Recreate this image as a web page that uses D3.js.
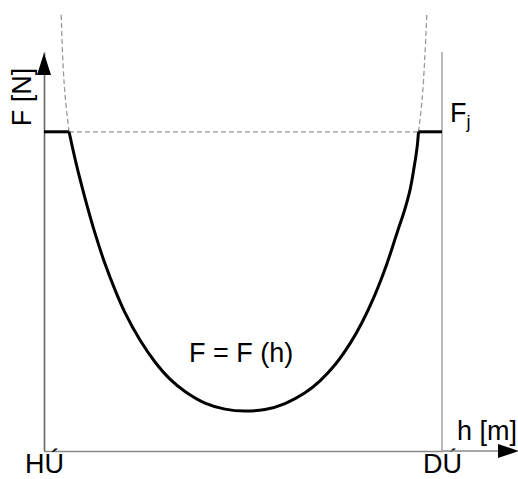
<!DOCTYPE html>
<html><head><meta charset="utf-8">
<script src="https://cdn.jsdelivr.net/npm/d3@7"></script>
<style>body{margin:0;background:#fff;overflow:hidden} text{font-family:"Liberation Sans",Arial,sans-serif;fill:#000}</style>
</head><body><svg id="c" width="518" height="479"></svg>
<script>
// data (h in % of HÚ..DÚ, F in % of axis height)
const hTicks = [0, 100];
const hTickLabels = ["HÚ", "DÚ"];
const Fj = 80;
const curveH = [6.3, 8.04, 10.3, 12.81, 15.33, 17.84, 20.35, 24.12, 27.89, 31.66, 35.43, 40.45, 45.48, 50.5,
  55.53, 60.55, 65.58, 69.35, 73.12, 76.88, 79.9, 83.17, 86.18, 88.94, 90.45, 91.96, 92.96, 93.72, 94.1];
const curveF = [80, 72.2, 63.4, 54.6, 46.9, 40.4, 34.7, 27.8, 22.3, 18.0, 14.9, 12.0, 10.5, 10.0,
  10.4, 11.9, 14.6, 17.6, 21.6, 26.9, 32.2, 39.2, 47.0, 55.4, 59.9, 65.4, 70.9, 75.9, 80];
const leftDashH = [6.3, 5.4, 4.8, 4.3];
const leftDashF = [80, 88, 96.5, 110];
const rightDashH = [94.1, 95.0, 95.7, 96.2];
const rightDashF = [80, 88, 99, 110];

const svg = d3.select("#c");
const x = d3.scaleLinear().domain([0, 100]).range([44, 442]);
const y = d3.scaleLinear().domain([0, 100]).range([451, 52]);

// axes
const xAxis = svg.append("g").attr("transform", `translate(0,${y(0)})`)
  .call(d3.axisBottom(x).tickValues(hTicks).tickSize(0).tickPadding(3)
    .tickFormat((d, i) => hTickLabels[i]));
xAxis.select(".domain").attr("stroke", "#8a8a8a").attr("stroke-width", 1.6);
xAxis.selectAll("text").attr("font-size", 27).attr("font-family", "Liberation Sans, Arial, sans-serif").attr("fill", "#000");
svg.append("line").attr("x1", x(100)).attr("x2", 500).attr("y1", y(0)).attr("y2", y(0))
  .attr("stroke", "#8a8a8a").attr("stroke-width", 1.6);
svg.append("path").attr("d", `M519,${y(0)} L498,${y(0) - 7} L498,${y(0) + 7} Z`).attr("fill", "#000");

const yAxis = svg.append("g").attr("transform", `translate(${x(0)},0)`)
  .call(d3.axisLeft(y).tickValues([]).tickSizeOuter(0));
yAxis.select(".domain").attr("stroke", "#666").attr("stroke-width", 1.6);
svg.append("path").attr("d", `M${x(0)},53 L${x(0) - 7},75 L${x(0) + 7},75 Z`).attr("fill", "#000");

// right boundary (DÚ)
svg.append("line").attr("x1", x(100)).attr("x2", x(100)).attr("y1", y(0)).attr("y2", y(100))
  .attr("stroke", "#aaa").attr("stroke-width", 1.6);

// dashed Fj line
svg.append("line").attr("x1", x(curveH[0])).attr("x2", x(curveH[curveH.length - 1]))
  .attr("y1", y(Fj)).attr("y2", y(Fj))
  .attr("stroke", "#999").attr("stroke-width", 1.3).attr("stroke-dasharray", "5,3");

const line = d3.line().x(d => x(d[0])).y(d => y(d[1])).curve(d3.curveCatmullRom);
const dashL = leftDashH.map((h, i) => [h, leftDashF[i]]);
const dashR = rightDashH.map((h, i) => [h, rightDashF[i]]);
[dashL, dashR].forEach(p => svg.append("path").attr("d", line(p)).attr("fill", "none")
  .attr("stroke", "#999").attr("stroke-width", 1.3).attr("stroke-dasharray", "5,3"));

// solid Fj segments
svg.append("line").attr("x1", x(0)).attr("x2", x(curveH[0])).attr("y1", y(Fj)).attr("y2", y(Fj))
  .attr("stroke", "#000").attr("stroke-width", 3);
svg.append("line").attr("x1", x(curveH[curveH.length - 1])).attr("x2", x(100)).attr("y1", y(Fj)).attr("y2", y(Fj))
  .attr("stroke", "#000").attr("stroke-width", 3);

// main curve
const pts = curveH.map((h, i) => [h, curveF[i]]);
svg.append("path").attr("d", line(pts)).attr("fill", "none").attr("stroke", "#000")
  .attr("stroke-width", 3).attr("stroke-linejoin", "round");

// labels
svg.append("text").attr("transform", "translate(31,97) rotate(-90)").attr("text-anchor", "middle")
  .attr("font-size", 27).text("F [N]");
const fj = svg.append("text").attr("x", 450).attr("y", 122).attr("font-size", 27);
fj.append("tspan").text("F");
fj.append("tspan").attr("font-size", 18).attr("dy", 6).text("j");
svg.append("text").attr("x", 189).attr("y", 362).attr("font-size", 27).text("F = F (h)");
svg.append("text").attr("x", 457).attr("y", 440).attr("font-size", 27).text("h [m]");
</script></body></html>
